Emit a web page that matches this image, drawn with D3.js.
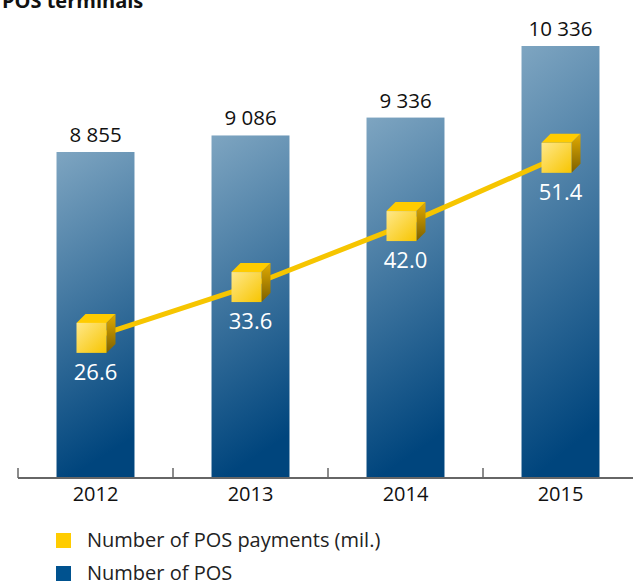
<!DOCTYPE html>
<html>
<head>
<meta charset="utf-8">
<script src="https://cdn.jsdelivr.net/npm/d3@7"></script>
<style>
  body { margin: 0; background: #fff; }
  svg { display: block; font-family: "Open Sans", "Noto Sans", sans-serif; }
</style>
</head>
<body>
<svg id="chart" width="633" height="583"></svg>
<script>
// chart data
const years = ["2012", "2013", "2014", "2015"];
const posCount = [8855, 9086, 9336, 10336];
const posPayments = [26.6, 33.6, 42.0, 51.4];
const legendLabels = ["Number of POS payments (mil.)", "Number of POS"];

const svg = d3.select("#chart");
const baseY = 478;

// scales
const x = d3.scaleBand().domain(years).range([18, 638]).paddingInner(0.497).paddingOuter(0.2485);
const y = d3.scaleLinear().domain([4300, 10336]).range([baseY, 46]);
const y2 = d3.scaleLinear().domain([0, 60]).range([531, 95.4]);

const fmt = v => d3.format(",")(v).replace(/,/g, " ");
const fmtDec = d3.format(".1f");

// gradients
const defs = svg.append("defs");
const barGrad = defs.append("linearGradient").attr("id", "barGrad")
    .attr("x1", 0).attr("y1", 0).attr("x2", 0.15).attr("y2", 1);
barGrad.append("stop").attr("offset", "0%").attr("stop-color", "#7ea5c1");
barGrad.append("stop").attr("offset", "100%").attr("stop-color", "#00457d");

const frontGrad = defs.append("linearGradient").attr("id", "frontGrad")
    .attr("x1", 0).attr("y1", 0).attr("x2", 1).attr("y2", 1);
frontGrad.append("stop").attr("offset", "0%").attr("stop-color", "#ffe88a");
frontGrad.append("stop").attr("offset", "100%").attr("stop-color", "#f7c500");

const sideGrad = defs.append("linearGradient").attr("id", "sideGrad")
    .attr("x1", 0).attr("y1", 0).attr("x2", 0).attr("y2", 1);
sideGrad.append("stop").attr("offset", "0%").attr("stop-color", "#e2ab00");
sideGrad.append("stop").attr("offset", "100%").attr("stop-color", "#7d6000");

// title (cut off at the top like the original)
svg.append("text")
    .attr("x", 2).attr("y", 8)
    .attr("font-size", 20).attr("font-weight", "bold").attr("fill", "#111")
    .text("POS terminals");

// bars
svg.selectAll(".bar")
    .data(years)
    .enter().append("rect")
    .attr("class", "bar")
    .attr("x", d => x(d))
    .attr("y", (d, i) => y(posCount[i]))
    .attr("width", x.bandwidth())
    .attr("height", (d, i) => baseY - y(posCount[i]))
    .attr("fill", "url(#barGrad)");

// bar value labels
svg.selectAll(".bar-label")
    .data(years)
    .enter().append("text")
    .attr("class", "bar-label")
    .attr("x", d => x(d) + x.bandwidth() / 2)
    .attr("y", (d, i) => y(posCount[i]) - 10)
    .attr("text-anchor", "middle")
    .attr("font-size", 20.5)
    .attr("fill", "#111")
    .text((d, i) => fmt(posCount[i]));

// x axis: labels from d3 axis, ticks at band boundaries
const axisG = svg.append("g")
    .attr("transform", `translate(0,${baseY})`)
    .call(d3.axisBottom(x).tickSize(0).tickPadding(9));
axisG.select(".domain").remove();
axisG.selectAll("text").attr("font-size", 20).attr("fill", "#111")
    .attr("font-family", "\"Open Sans\", \"Noto Sans\", sans-serif");

const step = x.step();
axisG.selectAll(".bound")
    .data(years)
    .enter().append("line")
    .attr("x1", d => x(d) + x.bandwidth() / 2 - step / 2)
    .attr("x2", d => x(d) + x.bandwidth() / 2 - step / 2)
    .attr("y1", -10).attr("y2", 0)
    .attr("stroke", "#666").attr("stroke-width", 1.5);
axisG.append("line")
    .attr("x1", x.range()[0]).attr("x2", 633)
    .attr("y1", 0).attr("y2", 0)
    .attr("stroke", "#666").attr("stroke-width", 2);

// payments line
const cx = d => x(d) + x.bandwidth() / 2;
const line = d3.line()
    .x(d => cx(d) - 4)
    .y((d, i) => y2(posPayments[i]));
svg.append("path")
    .datum(years)
    .attr("d", line)
    .attr("fill", "none")
    .attr("stroke", "#f6c500")
    .attr("stroke-width", 5);

// cube markers
const s = 30, dep = 9;
const cubes = svg.selectAll(".cube")
    .data(years)
    .enter().append("g")
    .attr("class", "cube")
    .attr("transform", (d, i) => `translate(${cx(d) - 19},${y2(posPayments[i]) - s / 2})`);

cubes.append("path")
    .attr("d", `M0,0 L${dep},${-dep} L${s + dep},${-dep} L${s},0 Z`)
    .attr("fill", "#ffcc00");
cubes.append("path")
    .attr("d", `M${s},0 L${s + dep},${-dep} L${s + dep},${s - dep} L${s},${s} Z`)
    .attr("fill", "url(#sideGrad)");
cubes.append("rect")
    .attr("width", s).attr("height", s)
    .attr("fill", "url(#frontGrad)");

// payment labels
svg.selectAll(".pay-label")
    .data(years)
    .enter().append("text")
    .attr("class", "pay-label")
    .attr("x", d => cx(d))
    .attr("y", (d, i) => y2(posPayments[i]) + 42)
    .attr("text-anchor", "middle")
    .attr("font-size", 22)
    .attr("fill", "#fff")
    .text((d, i) => fmtDec(posPayments[i]));

// legend
const legendColors = ["#ffcc00", "#00528f"];
const legend = svg.selectAll(".legend")
    .data(legendLabels)
    .enter().append("g")
    .attr("class", "legend")
    .attr("transform", (d, i) => `translate(56,${533 + i * 33})`);
legend.append("rect")
    .attr("width", 15).attr("height", 15)
    .attr("fill", (d, i) => legendColors[i]);
legend.append("text")
    .attr("x", 31).attr("y", 14)
    .attr("font-size", 20).attr("fill", "#222")
    .text(d => d);
</script>
</body>
</html>
